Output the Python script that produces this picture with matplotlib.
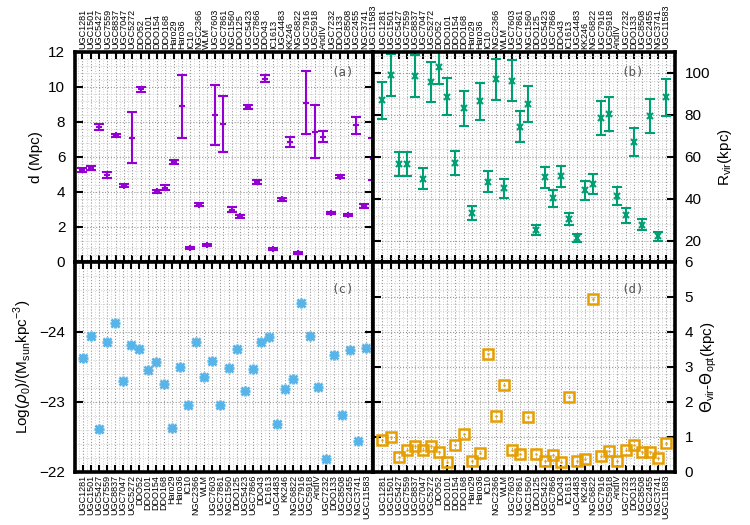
# plot.py
# four panel summary of the galaxy sample: distance, virial radius,
# central density and the virial - optical angle difference
import matplotlib
matplotlib.use("Agg")
import matplotlib.pyplot as plt
import numpy as np
from matplotlib.ticker import MultipleLocator, AutoMinorLocator

plt.rcParams['font.family'] = ['Liberation Sans', 'DejaVu Sans']

# galaxy names along the x axis
galaxies = ["UGC1281", "UGC1501", "UGC5427", "UGC7559", "UGC8837", "UGC7047",
            "UGC5272", "DDO52", "DDO101", "DDO154", "DDO168", "Haro29", "Haro36",
            "IC10", "NGC2366", "WLM", "UGC7603", "UGC7861", "NGC1560", "DDO125",
            "UGC5423", "UGC7866", "DDO43", "IC1613", "UGC4483", "KK246", "NGC6822",
            "UGC7916", "UGC5918", "AndIV", "UGC7232", "DDO133", "UGC8508",
            "UGC2455", "NGC3741", "UGC11583"]

# (a) distance in Mpc and its error
dist = [5.25, 5.37, 7.7, 4.97, 7.24, 4.36, 7.1, 9.86, np.nan, 4.04, 4.25, 5.7,
        8.9, 0.78, 3.28, 0.97, 8.4, 7.9, 2.98, 2.6, 8.87, 4.57, 10.47, 0.74,
        3.58, 6.85, 0.5, 9.1, 7.45, 7.17, 2.82, 4.88, 2.69, 7.8, 3.22, 5.9]
dist_err = [0.1, 0.1, 0.17, 0.16, 0.08, 0.1, 1.45, 0.12, 0.0, 0.08, 0.15, 0.1,
            1.8, 0.05, 0.1, 0.05, 1.7, 1.6, 0.15, 0.07, 0.1, 0.12, 0.2, 0.05,
            0.1, 0.3, 0.05, 1.8, 1.5, 0.3, 0.06, 0.08, 0.07, 0.5, 0.12, 1.2]

# (b) virial radius in kpc and its error
rvir = [87.0, 99.0, 56.8, 56.6, 98.5, 49.7, 95.8, 102.8, 88.7, 57.0, 83.1, 33.4,
        86.5, 48.3, 97.0, 45.0, 96.4, 74.5, 85.1, 25.4, 50.3, 40.3, 50.8, 30.5,
        21.5, 44.2, 47.1, 78.6, 80.5, 41.4, 32.2, 67.0, 27.7, 79.4, 22.2, 88.5]
rvir_err = [8.7, 10.0, 5.8, 5.7, 9.9, 5.0, 9.6, 8.0, 8.9, 5.7, 8.5, 3.4,
            8.7, 5.0, 9.7, 4.7, 9.6, 7.4, 8.6, 2.4, 5.1, 4.0, 5.1, 3.0,
            2.0, 4.5, 4.6, 8.0, 8.0, 4.2, 3.6, 6.7, 2.6, 8.0, 2.0, 8.8]

# (c) log central density
logrho = [-23.63, -23.94, -22.61, -23.85, -24.13, -23.30, -23.81, -23.75, -23.46,
          -23.57, -23.26, -22.63, -23.50, -22.95, -23.85, -23.35, -23.59, -22.95,
          -23.48, -23.76, -23.16, -23.47, -23.85, -23.93, -22.68, -23.19, -23.33,
          -24.42, -23.94, -23.22, -22.19, -23.67, -22.82, -23.74, -22.44, -23.77]

# (d) theta_vir - theta_opt in kpc
dtheta = [0.90, 1.00, 0.42, 0.62, 0.73, 0.62, 0.73, 0.57, 0.29, 0.78, 1.09, 0.32,
          0.53, 3.36, 1.61, 2.48, 0.64, 0.52, 1.56, 0.51, 0.32, 0.48, 0.28, 2.14,
          0.32, 0.38, 4.93, 0.47, 0.60, 0.32, 0.64, 0.76, 0.57, 0.56, 0.40, 0.83]

x = np.arange(1, len(galaxies) + 1)

fig = plt.figure(figsize=(7.5, 5.25), dpi=100)
ax_a = fig.add_axes([0.100, 0.501, 0.397, 0.400])
ax_b = fig.add_axes([0.497, 0.501, 0.403, 0.400])
ax_c = fig.add_axes([0.100, 0.101, 0.397, 0.400])
ax_d = fig.add_axes([0.497, 0.101, 0.403, 0.400])


def style(ax, ystep, right=False):
    for s in ax.spines.values():
        s.set_linewidth(2.6)
    ax.yaxis.set_major_locator(MultipleLocator(ystep))
    ax.yaxis.set_minor_locator(AutoMinorLocator(5))
    ax.xaxis.set_minor_locator(AutoMinorLocator(2))
    ax.grid(which='major', ls=':', color='#999999', lw=0.8)
    ax.grid(which='minor', ls=':', color='#cccccc', lw=0.7)
    ax.tick_params(axis='x', which='major', direction='in', top=True, bottom=True,
                   length=5, width=1.5, labelsize=6.5, labelrotation=90, pad=2)
    ax.tick_params(axis='x', which='minor', length=0)
    ax.tick_params(axis='y', which='major', direction='in', left=True, right=True,
                   length=6, width=1.5, labelsize=11, pad=7)
    ax.tick_params(axis='y', which='minor', length=0)
    if right:
        ax.yaxis.tick_right()
        ax.yaxis.set_label_position('right')
        ax.tick_params(axis='y', which='major', direction='in', left=True, right=True)
    ax.set_axisbelow(True)


# (a)
ax_a.errorbar(x, dist, yerr=dist_err, fmt='+', color='#9400d3', ms=5, mew=1.5,
              elinewidth=1.5, capsize=3.5, capthick=1.5)
ax_a.set_xlim(0.1, 36.0)
ax_a.set_ylim(0, 12)
style(ax_a, 2)
ax_a.set_xticks(x)
ax_a.set_xticklabels(galaxies)
ax_a.tick_params(axis='x', labeltop=True, labelbottom=False)
ax_a.set_ylabel('d (Mpc)', fontsize=11)
ax_a.text(0.90, 0.90, '(a)', transform=ax_a.transAxes, family='DejaVu Sans Mono',
          color='#555555', fontsize=9, ha='center', va='center')

# (b)
ax_b.errorbar(x, rvir, yerr=rvir_err, fmt='x', color='#009e73', ms=5, mew=1.5,
              elinewidth=1.5, capsize=3.5, capthick=1.5)
ax_b.set_xlim(-0.2, 37.1)
ax_b.set_ylim(10, 110)
style(ax_b, 20, right=True)
ax_b.set_yticks([20, 40, 60, 80, 100])
ax_b.set_xticks(x)
ax_b.set_xticklabels(galaxies)
ax_b.tick_params(axis='x', labeltop=True, labelbottom=False)
ax_b.set_ylabel(r'R$_{\mathregular{vir}}$(kpc)', fontsize=11)
ax_b.text(0.86, 0.90, '(b)', transform=ax_b.transAxes, family='DejaVu Sans Mono',
          color='#555555', fontsize=9, ha='center', va='center')

# (c) asterisk made of a plus and a cross
ax_c.plot(x, logrho, ls='none', marker='+', color='#56b4e9', ms=7, mew=2)
ax_c.plot(x, logrho, ls='none', marker='x', color='#56b4e9', ms=6, mew=2)
ax_c.set_xlim(0.05, 36.8)
ax_c.set_ylim(-22, -25)
style(ax_c, 1)
ax_c.set_yticks([-24, -23, -22])
ax_c.set_xticks(x)
ax_c.set_xticklabels(galaxies)
ax_c.tick_params(axis='x', labeltop=False, labelbottom=True)
ax_c.set_ylabel(r'Log($\rho_{\mathregular{0}}$)/(M$_{\mathregular{sun}}$kpc$^{\mathregular{-3}}$)',
                fontsize=11)
ax_c.text(0.90, 0.87, '(c)', transform=ax_c.transAxes, family='DejaVu Sans Mono',
          color='#555555', fontsize=9, ha='center', va='center')

# (d)
ax_d.plot(x, dtheta, ls='none', marker='s', mfc='none', color='#e69f00', ms=7, mew=1.8)
ax_d.plot(x, dtheta, ls='none', marker='.', color='#e69f00', ms=1.5)
ax_d.set_xlim(-0.2, 37.1)
ax_d.set_ylim(0, 6)
style(ax_d, 1, right=True)
ax_d.set_xticks(x)
ax_d.set_xticklabels(galaxies)
ax_d.tick_params(axis='x', labeltop=False, labelbottom=True)
ax_d.set_ylabel(r'$\Theta_{\mathregular{vir}}$-$\Theta_{\mathregular{opt}}$(kpc)', fontsize=11)
ax_d.text(0.86, 0.87, '(d)', transform=ax_d.transAxes, family='DejaVu Sans Mono',
          color='#555555', fontsize=9, ha='center', va='center')

fig.savefig('out.png', dpi=100)
